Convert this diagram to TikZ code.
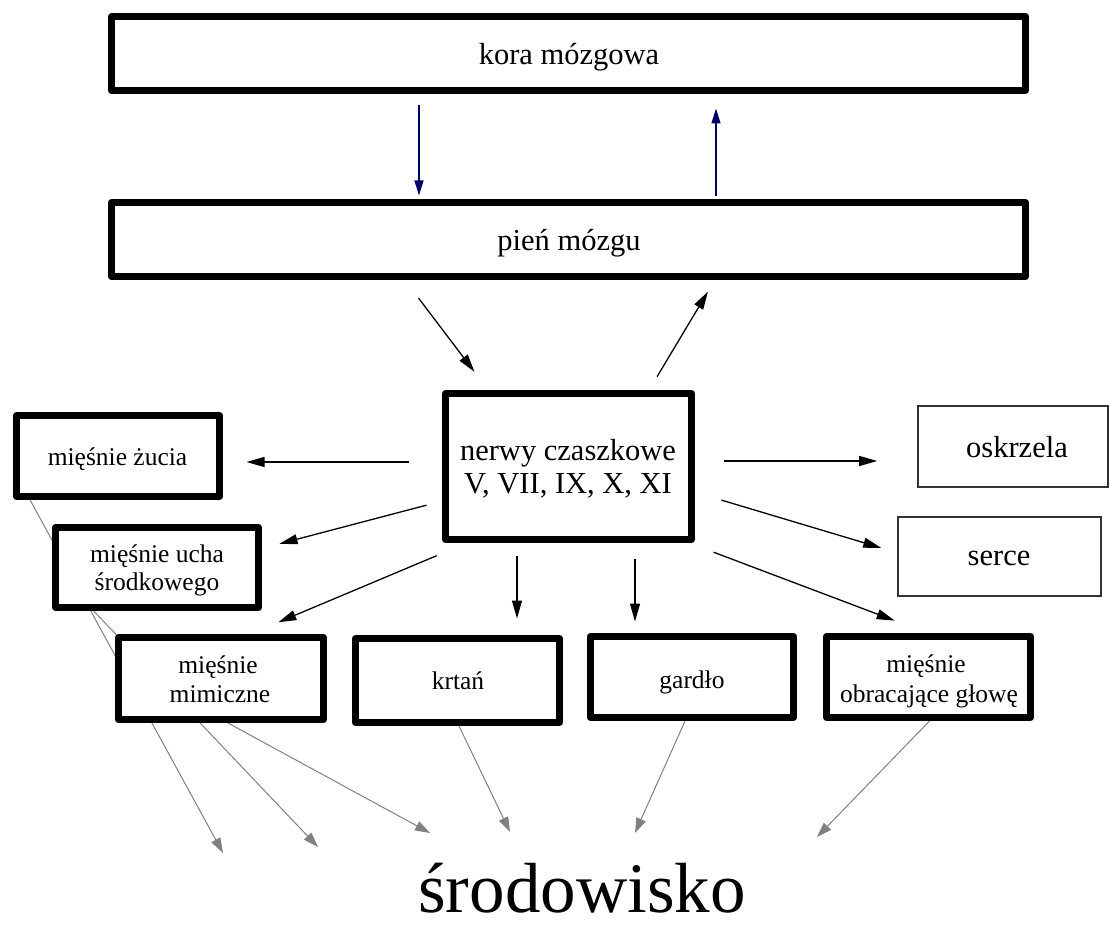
\documentclass[tikz,border=0pt]{standalone}
\usepackage{fontspec}
\setmainfont{Liberation Serif}
\usetikzlibrary{arrows.meta}
\pgfdeclarelayer{background}
\pgfsetlayers{background,main}
\definecolor{navycol}{HTML}{000066}
\definecolor{greycol}{HTML}{808080}
\definecolor{thincol}{HTML}{333333}

\tikzset{
  box/.style={draw=black, line width=7pt, line join=round, fill=white, inner sep=0pt},
  thinbox/.style={draw=thincol, line width=1.6pt, fill=white, inner sep=0pt},
  lab/.style={inner sep=0pt, anchor=base, font=\fontsize{25.5}{30}\selectfont},
  biglab/.style={inner sep=0pt, anchor=base, font=\fontsize{30.5}{36}\selectfont},
  envlab/.style={inner sep=0pt, anchor=base, font=\fontsize{71}{80}\selectfont},
  arr/.style={draw=black, line width=1.3pt, -{Triangle[length=18pt,width=10pt]}},
  navyarr/.style={draw=navycol, line width=1.3pt, -{Triangle[length=15pt,width=9pt]}},
  greyarr/.style={draw=greycol, line width=1pt, -{Triangle[length=15pt,width=10pt]}},
}

\begin{document}
\begin{tikzpicture}[x=1pt, y=-1pt]
\useasboundingbox (0,0) rectangle (1109,928);

% brain levels
\node[box, minimum width=914pt, minimum height=74pt] (kora) at (568.5,53.5) {};
\node[box, minimum width=914pt, minimum height=74pt] (pien) at (568.5,239.5) {};
\node[box, minimum width=246pt, minimum height=146pt] (nerwy) at (568.5,466.5) {};

% effector boxes
\node[box, minimum width=203pt, minimum height=81pt] (zucia) at (118,456) {};
\node[box, minimum width=203pt, minimum height=80pt] (ucha) at (157,567.5) {};
\node[box, minimum width=205pt, minimum height=82pt] (mimic) at (221,678.5) {};
\node[box, minimum width=204pt, minimum height=84pt] (krtan) at (457.5,680.5) {};
\node[box, minimum width=203pt, minimum height=81pt] (gardlo) at (692,677) {};
\node[box, minimum width=204pt, minimum height=81pt] (obrac) at (928.5,677) {};
\node[thinbox, minimum width=190.5pt, minimum height=81.5pt] (oskrz) at (1013,446.5) {};
\node[thinbox, minimum width=203.5pt, minimum height=79.5pt] (serce) at (999.5,556.5) {};

% labels
\node[biglab] (koraT) at (569,65) {kora mózgowa};
\node[biglab] (pienT) at (569,251) {pień mózgu};
\node[biglab] (nerwyT1) at (568,460) {nerwy czaszkowe};
\node[biglab] (nerwyT2) at (568,493) {V, VII, IX, X, XI};
\node[lab] (zuciaT) at (117.5,465) {mięśnie żucia};
\node[lab] (uchaT1) at (157,562) {mięśnie ucha};
\node[lab] (uchaT2) at (157,590) {środkowego};
\node[lab] (mimicT1) at (218,673) {mięśnie};
\node[lab] (mimicT2) at (220,702) {mimiczne};
\node[lab] (krtanT) at (458,689) {krtań};
\node[lab] (gardloT) at (692,688) {gardło};
\node[lab] (obracT1) at (926,672) {mięśnie};
\node[lab] (obracT2) at (929,702) {obracające głowę};
\node[biglab] (oskrzT) at (1017,457) {oskrzela};
\node[biglab] (serceT) at (999,565) {serce};
\node[envlab] (env) at (582,912) {środowisko};

% free ends of the arrows towards the environment
\coordinate (t1) at (223,853);
\coordinate (t2) at (318,847);
\coordinate (t3) at (430,833);
\coordinate (t4) at (510,832);
\coordinate (t5) at (635,833);
\coordinate (t6) at (817,837);

% cortex <-> brainstem
\draw[navyarr, shorten <=11.5pt, shorten >=3.5pt] ([xshift=-149.5pt]kora.south) -- ([xshift=-149.5pt]pien.north);
\draw[navyarr, shorten <=2.5pt, shorten >=14.5pt] ([xshift=147.5pt]pien.north) -- ([xshift=147.5pt]kora.south);

% brainstem <-> cranial nerves
\draw[arr, shorten <=22.7pt, shorten >=22.7pt] ([xshift=-163.7pt]pien.south) -- ([xshift=-80.3pt]nerwy.north);
\draw[arr, shorten <=15.5pt, shorten >=13.5pt] ([xshift=80.6pt]nerwy.north) -- ([xshift=146.4pt]pien.south);

% cranial nerves -> effectors
\draw[arr, shorten <=33.5pt, shorten >=23.5pt] ([yshift=4.5pt]nerwy.west) -- ([yshift=-6pt]zucia.east);
\draw[arr, shorten <=16pt, shorten >=18.1pt] ([yshift=-34.6pt]nerwy.west) -- ([yshift=19.1pt]ucha.east);
\draw[arr, shorten <=32.7pt, shorten >=30.3pt] ([xshift=-101.7pt]nerwy.south) -- ([xshift=29.4pt]mimic.north);
\draw[arr, shorten <=12.5pt, shorten >=16.5pt] ([xshift=-51.5pt]nerwy.south) -- ([xshift=59.5pt]krtan.north);
\draw[arr, shorten <=15.5pt, shorten >=11.5pt] ([xshift=66.5pt]nerwy.south) -- ([xshift=-57pt]gardlo.north);
\draw[arr, shorten <=28.5pt, shorten >=39.75pt] ([yshift=5.5pt]nerwy.east) -- ([yshift=-14.5pt]oskrz.west);
\draw[arr, shorten <=27.6pt, shorten >=16.4pt] ([yshift=-25.7pt]nerwy.east) -- ([yshift=3.9pt]serce.west);
\draw[arr, shorten <=26pt, shorten >=35pt] ([xshift=120.7pt]nerwy.south) -- ([xshift=-1.1pt]obrac.north);

% effectors -> environment (behind the boxes)
\begin{pgfonlayer}{background}
\draw[greyarr] ([xshift=-87.9pt]zucia.south) -- (t1);
\draw[greyarr] ([xshift=-63.3pt]ucha.south) -- (t2);
\draw[greyarr] ([xshift=7pt]mimic.south) -- (t3);
\draw[greyarr] ([xshift=1.5pt]krtan.south) -- (t4);
\draw[greyarr] ([xshift=-7pt]gardlo.south) -- (t5);
\draw[greyarr] ([xshift=1pt]obrac.south) -- (t6);
\end{pgfonlayer}
\end{tikzpicture}
\end{document}
